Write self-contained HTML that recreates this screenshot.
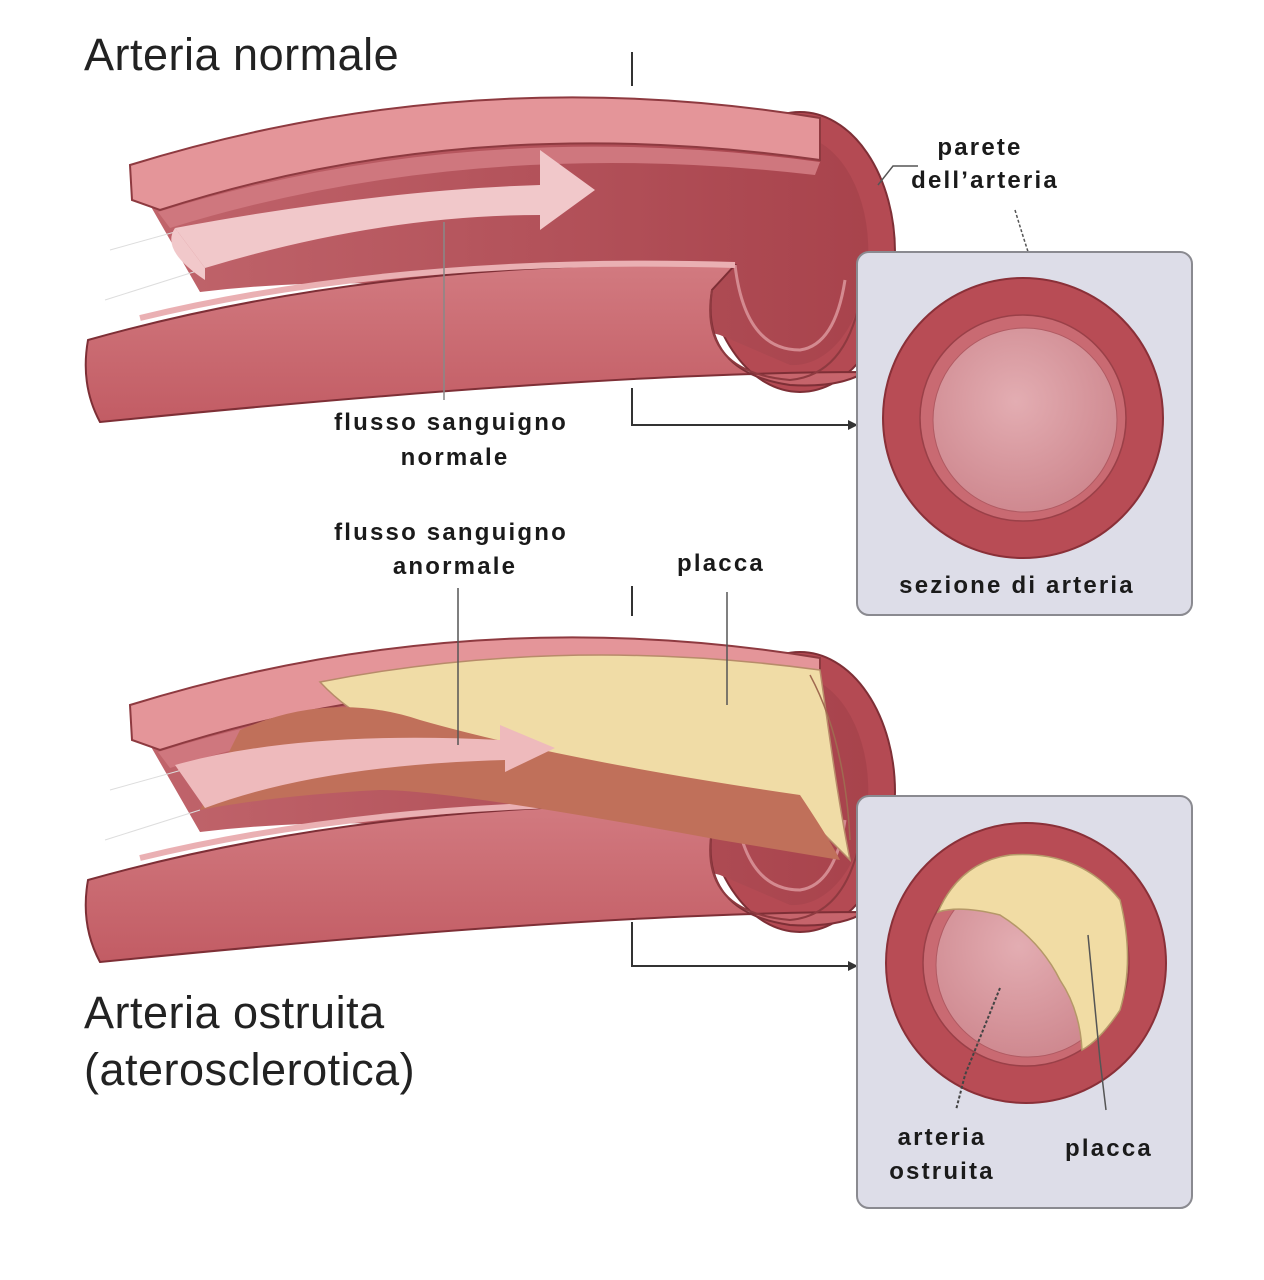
<!DOCTYPE html>
<html><head><meta charset="utf-8"><style>
html,body{margin:0;padding:0;background:#fff;}
svg{display:block;}
text{font-family:"Liberation Sans",Arial,sans-serif;}
.b{font-weight:bold;font-size:24px;letter-spacing:2.2px;fill:#1a1a1a;}
.t{font-size:45px;letter-spacing:0.5px;fill:#222;}
</style></head><body>
<svg width="1264" height="1280" viewBox="0 0 1264 1280" xmlns="http://www.w3.org/2000/svg">
<defs>
<linearGradient id="lum" x1="0" y1="0" x2="1" y2="0">
<stop offset="0" stop-color="#c0646b"/><stop offset="1" stop-color="#a8434c"/></linearGradient>
<linearGradient id="tube" x1="0" y1="0" x2="0" y2="1">
<stop offset="0" stop-color="#d27a80"/><stop offset="1" stop-color="#c25c64"/></linearGradient>
<radialGradient id="inner" cx="0.45" cy="0.4" r="0.6">
<stop offset="0" stop-color="#e3adb2"/><stop offset="1" stop-color="#cf8990"/></radialGradient>
<g id="shell">
<ellipse cx="800" cy="252" rx="95" ry="140" fill="#b44a53" stroke="#7e2f36" stroke-width="2"/>
<path d="M150,205 Q460,118 810,138 A75,115 0 0 1 790,365 L720,335 Q450,262 200,292 Z" fill="url(#lum)"/>
<path d="M130,165 Q470,60 820,118 L820,160 Q470,110 160,210 L132,200 Z" fill="#e49599" stroke="#8e3a40" stroke-width="2"/>
<path d="M158,212 Q470,115 820,162 L815,175 Q470,135 170,228 Z" fill="#cf777e"/>
<path d="M88,340 Q380,258 735,265 L712,290 Q700,372 790,385 Q840,388 865,372 Q600,372 100,422 Q80,385 88,340 Z" fill="url(#tube)" stroke="#7e2f36" stroke-width="2"/>
<path d="M712,290 Q698,372 790,380 Q845,375 860,300" fill="none" stroke="#8e3a40" stroke-width="2"/>
<path d="M735,265 Q745,350 800,350 Q835,345 845,280" fill="none" stroke="#d48a90" stroke-width="3"/>
<path d="M140,318 Q400,255 735,265" fill="none" stroke="#eab0b3" stroke-width="6"/>
<path d="M110,250 L200,225 M105,300 L200,270" stroke="#ddd" stroke-width="1"/>
</g>
</defs>

<use href="#shell"/>
<path d="M175,228 Q380,190 540,185 L540,150 L595,190 L540,230 L540,215 Q380,215 205,268 Z" fill="#f1c8ca"/>
<path d="M175,228 Q160,250 205,280 L205,268 Z" fill="#f1c8ca"/>

<g transform="translate(0,540)">
<use href="#shell"/>
<path d="M320,142 Q560,95 820,130 L830,200 Q840,270 850,320 L800,270 Q560,225 420,200 Q360,185 320,142 Z" fill="#f0dca6" stroke="#b88b6a" stroke-width="1.5"/>
<path d="M240,190 Q330,150 420,180 Q560,220 800,255 Q830,300 840,320 L720,300 Q450,250 380,250 Q280,255 200,270 Z" fill="#c0705a"/>
<path d="M175,225 Q300,190 500,200 L500,185 L555,208 L505,232 L505,220 Q320,225 205,268 Z" fill="#eebabc"/>
<path d="M810,135 Q845,200 850,300" stroke="#a06a50" stroke-width="1.5" fill="none"/>
</g>

<g stroke="#333" stroke-width="2" fill="none">
<path d="M632,52 L632,86"/>
<path d="M632,388 L632,425 L848,425"/>
<path d="M632,586 L632,616"/>
<path d="M632,922 L632,966 L848,966"/>
<path d="M444,222 L444,400" stroke="#888" stroke-width="1.5"/>
<path d="M458,588 L458,745" stroke="#555" stroke-width="1.5"/>
<path d="M727,592 L727,705" stroke="#555" stroke-width="1.5"/>
<path d="M918,166 L893,166 L878,185" stroke="#555" stroke-width="1.5"/>
<path d="M1015,210 Q1030,260 1043,295" stroke="#555" stroke-width="1.5" stroke-dasharray="3,2"/>
</g>
<path d="M848,420 L858,425 L848,430 Z M848,961 L858,966 L848,971 Z" fill="#333"/>

<rect x="857" y="252" width="335" height="363" rx="12" fill="#dddde8" stroke="#8a8a90" stroke-width="2"/>
<rect x="857" y="796" width="335" height="412" rx="12" fill="#dddde8" stroke="#8a8a90" stroke-width="2"/>
<circle cx="1023" cy="418" r="140" fill="#b84c55" stroke="#8a3038" stroke-width="2"/>
<circle cx="1023" cy="418" r="103" fill="#c96a72" stroke="#9a4048" stroke-width="1.5"/>
<circle cx="1025" cy="420" r="92" fill="url(#inner)" stroke="#b05a62" stroke-width="1"/>
<circle cx="1026" cy="963" r="140" fill="#b84c55" stroke="#8a3038" stroke-width="2"/>
<circle cx="1026" cy="963" r="103" fill="#c96a72" stroke="#9a4048" stroke-width="1.5"/>
<circle cx="1028" cy="965" r="92" fill="url(#inner)" stroke="#b05a62" stroke-width="1"/>
<path d="M938,912 Q960,862 1010,855 Q1080,850 1120,900 Q1135,960 1120,1010 Q1100,1040 1082,1050 Q1080,1010 1060,980 Q1040,940 1000,915 Q960,905 938,912 Z" fill="#f1dca4" stroke="#b59868" stroke-width="1.5"/>
<path d="M1000,988 L965,1075 L956,1110" stroke="#444" stroke-width="2" fill="none" stroke-dasharray="3,2"/>
<path d="M1088,935 L1100,1060 L1106,1110" stroke="#555" stroke-width="1.5" fill="none"/>

<text x="84" y="70" class="t">Arteria normale</text>
<text x="84" y="1028" class="t">Arteria ostruita</text>
<text x="84" y="1085" class="t">(aterosclerotica)</text>
<text x="980" y="155" class="b" text-anchor="middle">parete</text>
<text x="985" y="188" class="b" text-anchor="middle">dell’arteria</text>
<text x="451" y="430" class="b" text-anchor="middle">flusso sanguigno</text>
<text x="455" y="465" class="b" text-anchor="middle">normale</text>
<text x="451" y="540" class="b" text-anchor="middle">flusso sanguigno</text>
<text x="455" y="574" class="b" text-anchor="middle">anormale</text>
<text x="721" y="571" class="b" text-anchor="middle">placca</text>
<text x="1017" y="593" class="b" text-anchor="middle">sezione di arteria</text>
<text x="942" y="1145" class="b" text-anchor="middle">arteria</text>
<text x="942" y="1179" class="b" text-anchor="middle">ostruita</text>
<text x="1109" y="1156" class="b" text-anchor="middle">placca</text>
</svg>
</body></html>
